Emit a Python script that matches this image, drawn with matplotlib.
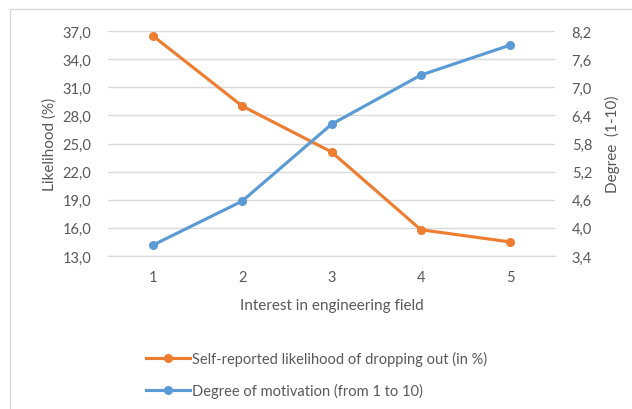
import matplotlib
matplotlib.use("Agg")
import matplotlib.pyplot as plt
from matplotlib.patches import Rectangle
from matplotlib.ticker import FuncFormatter

plt.rcParams['font.family'] = ['Lato', 'DejaVu Sans']

interest = [1, 2, 3, 4, 5]
dropout_pct = [36.5, 29.0, 24.1, 15.8, 14.5]
motivation = [3.63, 4.57, 6.21, 7.26, 7.9]
left_ticks = [13, 16, 19, 22, 25, 28, 31, 34, 37]
right_ticks = [3.4, 4.0, 4.6, 5.2, 5.8, 6.4, 7.0, 7.6, 8.2]

orange = '#ED7D31'
blue = '#5B9BD5'
grey_txt = '#595959'
grid_c = '#d9d9d9'

fig = plt.figure(figsize=(6.32, 4.1), dpi=100)
fig.patches.append(Rectangle((10 / 632, -0.1), 1.0, 1 - 10 / 410 + 0.1,
                             transform=fig.transFigure, fill=False,
                             edgecolor=grid_c, linewidth=1))

ax = fig.add_axes([108 / 632, 1 - 257 / 410, (555 - 108) / 632, (257 - 32) / 410])
ax2 = ax.twinx()

l1, = ax.plot(interest, dropout_pct, color=orange, lw=2.25, marker='o', ms=5.5,
              label='Self-reported likelihood of dropping out (in %)', zorder=3)
l2, = ax2.plot(interest, motivation, color=blue, lw=2.25, marker='o', ms=5.5,
               label='Degree of motivation (from 1 to 10)', zorder=3)

ax.set_xlim(0.5, 5.5)
ax.set_ylim(13, 37)
ax2.set_ylim(3.4, 8.2)
ax.set_xticks(interest)
ax.set_yticks(left_ticks)
ax2.set_yticks(right_ticks)

comma = FuncFormatter(lambda v, p: f'{v:.1f}'.replace('.', ','))
ax.yaxis.set_major_formatter(comma)
ax2.yaxis.set_major_formatter(comma)

ax.grid(axis='y', color=grid_c, lw=1)
ax.set_axisbelow(True)
for a in (ax, ax2):
    for s in ('top', 'left', 'right'):
        a.spines[s].set_visible(False)
    a.spines['bottom'].set_color(grid_c)
    a.tick_params(length=0, labelsize=10.5, labelcolor=grey_txt)
ax.tick_params(axis='y', pad=12)
ax2.tick_params(axis='y', pad=12)
ax.tick_params(axis='x', pad=10)

ax.set_xlabel('Interest in engineering field', fontsize=11, color=grey_txt, labelpad=10)
ax.set_ylabel('Likelihood (%)', fontsize=11, color=grey_txt, labelpad=4)
ax2.set_ylabel('Degree  (1-10)', fontsize=11, color=grey_txt, labelpad=9)

fig.legend(handles=[l1, l2], loc='upper left', bbox_to_anchor=(140 / 632, 1 - 346 / 410),
           frameon=False, fontsize=10.5, labelcolor=grey_txt, handlelength=3,
           handletextpad=0.2, labelspacing=1.2, borderaxespad=0)

fig.savefig('out.png', dpi=100)
